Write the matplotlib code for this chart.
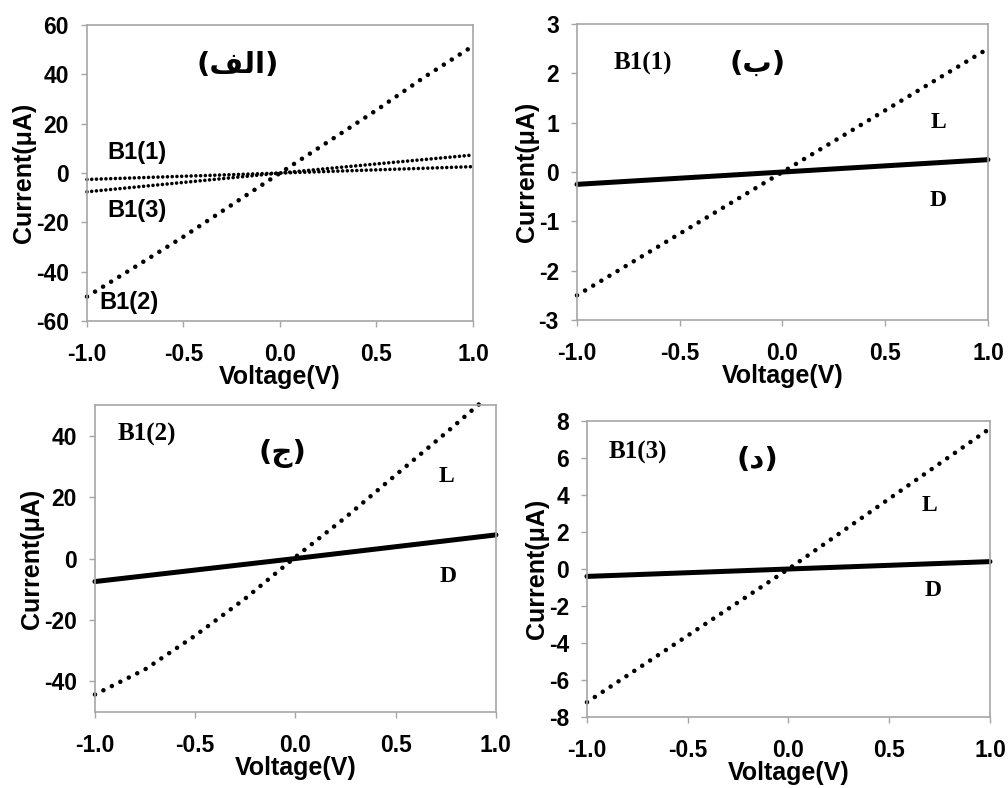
import matplotlib
matplotlib.use("Agg")
import matplotlib.pyplot as plt

plt.rcParams["axes.unicode_minus"] = False
plt.rcParams["lines.scale_dashes"] = False

# ---- data -------------------------------------------------------------
# (a) illuminated I-V of the three samples
v_a = [-1.0, -0.75, -0.5, -0.25, 0.0, 0.25, 0.5, 0.75, 1.0]
i_b11_a = [-2.6, -1.95, -1.3, -0.65, 0.0, 0.65, 1.3, 1.95, 2.6]
i_b12_a = [-50.1, -38.0, -25.8, -12.9, 0.0, 12.7, 25.5, 39.0, 51.5]
i_b13_a = [-7.6, -5.7, -3.8, -1.9, 0.0, 1.85, 3.7, 5.5, 7.3]

# (b) B1(1): light (L) and dark (D)
v_b = [-1.0, 0.0, 1.0]
i_light_b = [-2.5, 0.0, 2.5]
i_dark_b = [-0.25, 0.0, 0.25]

# (c) B1(2): light (L) and dark (D)
v_c_light = [-1.0, -0.75, -0.5, -0.25, 0.0, 0.25, 0.5, 0.75, 0.92]
i_c_light = [-44.3, -36.1, -25.1, -13.0, 0.5, 13.4, 27.2, 40.9, 50.5]
v_c_dark = [-1.0, 0.0, 1.0]
i_c_dark = [-7.5, 0.0, 7.7]

# (d) B1(3): light (L) and dark (D)
v_d = [-1.0, 0.0, 1.0]
i_light_d = [-7.2, 0.0, 7.6]
i_dark_d = [-0.4, 0.0, 0.4]

x_ticks = [-1.0, -0.5, 0.0, 0.5, 1.0]
y_ticks_a = [-60, -40, -20, 0, 20, 40, 60]
y_ticks_b = [-3, -2, -1, 0, 1, 2, 3]
y_ticks_c = [-40, -20, 0, 20, 40]
y_ticks_d = [-8, -6, -4, -2, 0, 2, 4, 6, 8]

# Arabic panel letters (presentation forms in visual order)
label_a = "(\uFED2\uFEDF\uFE8D)"
label_b = "(\uFE8F)"
label_c = "(\uFE9D)"
label_d = "(\uFEA9)"

# ---- styling ----------------------------------------------------------
SANS = ["Liberation Sans", "DejaVu Sans"]
SERIF = ["Liberation Serif", "DejaVu Serif"]
ARABIC = ["DejaVu Sans"]
SPINE = "#a6a6a6"
TICK_FS = 16.5
LABEL_FS = 18
SERIF_FS = 18
LD_FS = 17
AR_FS = 21


def dotted(ax, x, y, lw=3.3, gap=6.8):
    ax.plot(x, y, color="black", linestyle=(0, (0.01, gap)), linewidth=lw,
            dash_capstyle="round", clip_on=False)


def solid(ax, x, y, lw=3.6):
    ax.plot(x, y, color="black", linewidth=lw, solid_capstyle="round", clip_on=False)


def style_axes(ax, yticks, ylim):
    ax.set_xlim(-1.0, 1.0)
    ax.set_ylim(*ylim)
    ax.set_xticks(x_ticks)
    ax.set_xticklabels([f"{t:.1f}" for t in x_ticks])
    ax.set_yticks(yticks)
    ax.set_yticklabels([str(t) for t in yticks])
    for s in ax.spines.values():
        s.set_color(SPINE)
        s.set_linewidth(1.2)
    ax.tick_params(direction="out", length=4, width=1.0, color=SPINE)
    ax.tick_params(axis="x", pad=12)
    ax.tick_params(axis="y", pad=9)
    for lab in ax.get_xticklabels() + ax.get_yticklabels():
        lab.set_family(SANS)
        lab.set_fontweight("bold")
        lab.set_fontsize(TICK_FS)
    ax.set_xlabel("Voltage(V)", family=SANS, fontweight="bold", fontsize=LABEL_FS, labelpad=-1)
    ax.set_ylabel("Current(\u03bcA)", family=SANS, fontweight="bold", fontsize=LABEL_FS, labelpad=0)


def note(ax, x, y, s, family, size):
    ax.text(x, y, s, family=family, fontweight="bold", fontsize=size, ha="center", va="center")


fig = plt.figure(figsize=(10.08, 7.88), dpi=100)

ax_a = fig.add_axes([0.0863, 0.5926, 0.3829, 0.3756])
ax_b = fig.add_axes([0.5724, 0.5939, 0.4077, 0.3756])
ax_c = fig.add_axes([0.0942, 0.0964, 0.3978, 0.3896])
ax_d = fig.add_axes([0.5823, 0.0901, 0.3998, 0.3756])

# (a)
dotted(ax_a, v_a, i_b11_a, lw=2.6, gap=3.4)
dotted(ax_a, v_a, i_b13_a, lw=2.6, gap=3.4)
dotted(ax_a, v_a, i_b12_a)
style_axes(ax_a, y_ticks_a, (-60, 60))
note(ax_a, -0.22, 44, label_a, ARABIC, AR_FS)
note(ax_a, -0.74, 8.5, "B1(1)", SANS, LABEL_FS - 1)
note(ax_a, -0.74, -15, "B1(3)", SANS, LABEL_FS - 1)
note(ax_a, -0.78, -52.3, "B1(2)", SANS, LABEL_FS - 1)

# (b)
dotted(ax_b, v_b, i_light_b)
solid(ax_b, v_b, i_dark_b)
style_axes(ax_b, y_ticks_b, (-3, 3))
note(ax_b, -0.68, 2.21, "B1(1)", SERIF, SERIF_FS)
note(ax_b, -0.12, 2.2, label_b, ARABIC, AR_FS)
note(ax_b, 0.757, 1.01, "L", SERIF, LD_FS)
note(ax_b, 0.757, -0.57, "D", SERIF, LD_FS)

# (c)
dotted(ax_c, v_c_light, i_c_light)
solid(ax_c, v_c_dark, i_c_dark)
style_axes(ax_c, y_ticks_c, (-50, 50))
note(ax_c, -0.74, 40.3, "B1(2)", SERIF, SERIF_FS)
note(ax_c, -0.067, 34.3, label_c, ARABIC, AR_FS)
note(ax_c, 0.755, 26.7, "L", SERIF, LD_FS)
note(ax_c, 0.76, -5.9, "D", SERIF, LD_FS)

# (d)
dotted(ax_d, v_d, i_light_d)
solid(ax_d, v_d, i_dark_d)
style_axes(ax_d, y_ticks_d, (-8, 8))
note(ax_d, -0.747, 6.32, "B1(3)", SERIF, SERIF_FS)
note(ax_d, -0.156, 5.9, label_d, ARABIC, AR_FS)
note(ax_d, 0.70, 3.46, "L", SERIF, LD_FS)
note(ax_d, 0.72, -1.14, "D", SERIF, LD_FS)

fig.savefig("out.png", dpi=100)
